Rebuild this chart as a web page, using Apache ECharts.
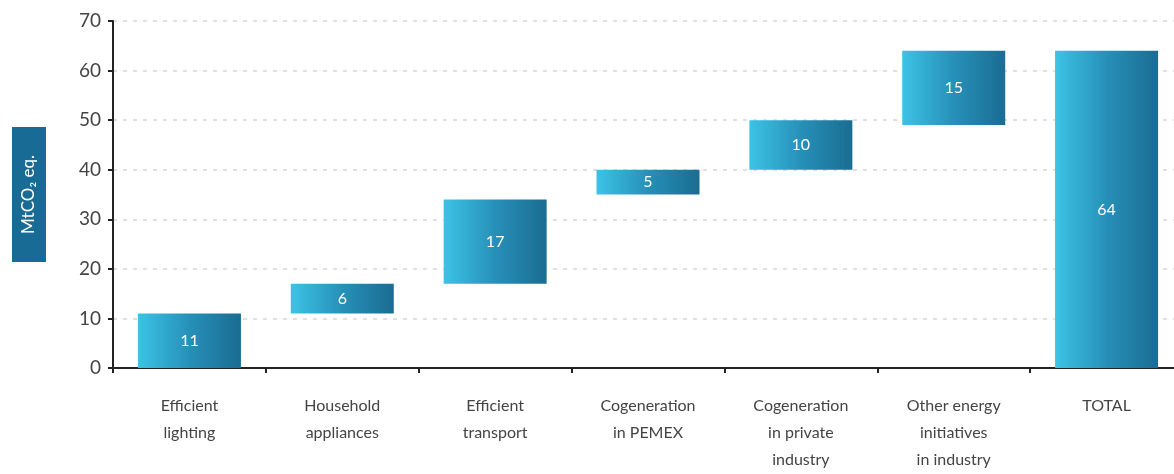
<!DOCTYPE html>
<html><head><meta charset="utf-8">
<script src="https://cdn.jsdelivr.net/npm/echarts@6/dist/echarts.min.js"></script>
<style>html,body{margin:0;padding:0;background:#fff}#c{width:1174px;height:474px}</style>
</head><body><div id="c"></div>
<script>
const categories = ['Efficient\nlighting','Household\nappliances','Efficient\ntransport','Cogeneration\nin PEMEX','Cogeneration\nin private\nindustry','Other energy\ninitiatives\nin industry','TOTAL'];
const bases = [0, 11, 17, 35, 40, 49, 0];
const values = [11, 6, 17, 5, 10, 15, 64];
const yTicks = [0, 10, 20, 30, 40, 50, 60, 70];

const grad = new echarts.graphic.LinearGradient(0,0,1,0,[
  {offset:0,color:'#3cc3e6'},{offset:0.5,color:'#2790b8'},{offset:1,color:'#1a6c92'}]);
const chart = echarts.init(document.getElementById('c'));
chart.setOption({
  animation:false,
  grid:{left:113,width:1070,top:21,height:347,containLabel:false,outerBoundsMode:'none'},
  xAxis:{type:'category',data:categories,
    axisLine:{lineStyle:{color:'#222',width:2}},
    axisTick:{show:true,length:5,lineStyle:{color:'#222',width:2}},
    axisLabel:{color:'#444',fontFamily:'Lato',fontSize:16,lineHeight:27,margin:24,interval:0}},
  yAxis:{type:'value',min:yTicks[0],max:yTicks[yTicks.length-1],interval:10,
    name:'MtCO\u2082 eq.',nameLocation:'middle',nameRotate:90,nameGap:67,
    nameTextStyle:{color:'#fff',backgroundColor:'#176b95',fontFamily:'Lato',fontSize:17,padding:[8,28,9,28]},
    axisLine:{show:true,lineStyle:{color:'#222',width:2}},
    axisTick:{show:true,length:5,lineStyle:{color:'#222',width:2}},
    axisLabel:{color:'#444',fontFamily:'Lato',fontSize:19,margin:12,
      formatter:v=>yTicks.includes(v)?String(v):''},
    splitLine:{show:true,lineStyle:{color:'#d6d6d6',type:[4,6],width:1.5}}},
  series:[
    {type:'bar',stack:'w',data:bases,itemStyle:{color:'transparent'},barWidth:103,silent:true},
    {type:'bar',stack:'w',data:values,barWidth:103,itemStyle:{color:grad},
     label:{show:true,position:'inside',color:'#fff',fontFamily:'Lato',fontSize:16}}
  ]
});
</script></body></html>
